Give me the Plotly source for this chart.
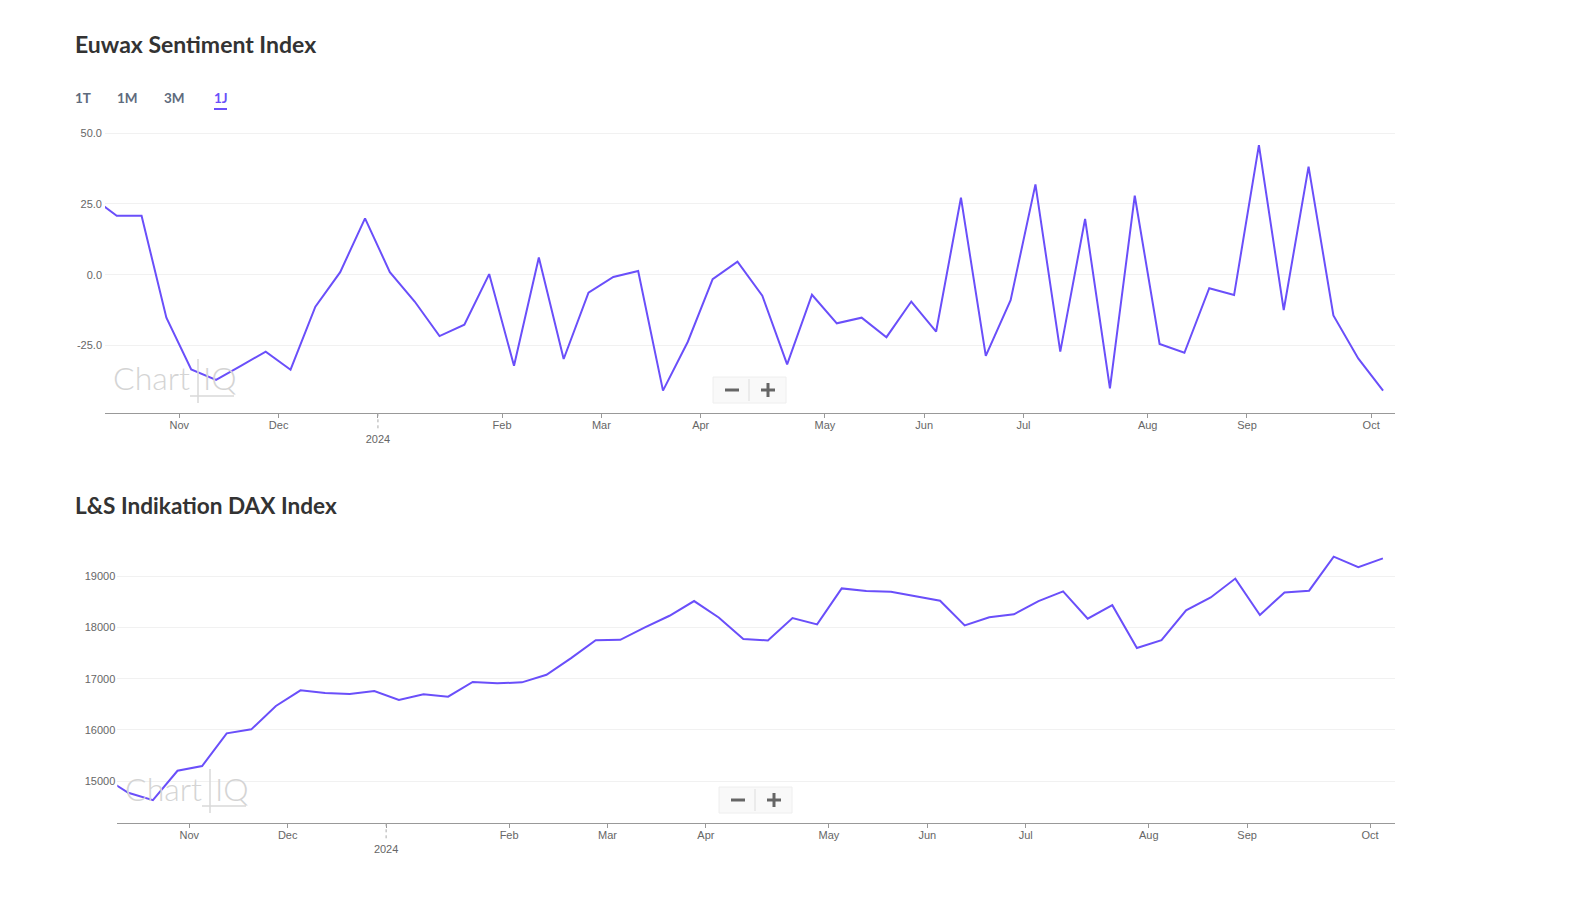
import plotly.graph_objects as go

W, H = 1590, 901

sentiment = [27.4, 20.8, 20.8, -15.2, -33.5, -37.2, -32.2, -27.2, -33.6, -11.3, 0.9, 19.9, 0.9,
             -9.5, -21.7, -17.7, 0.2, -32.2, 6.1, -29.8, -6.4, -0.8, 1.3, -41.0, -23.7, -1.6,
             4.6, -7.4, -31.7, -7.1, -17.2, -15.2, -22.1, -9.5, -20.1, 27.2, -28.7, -9.0, 31.9,
             -27.2, 19.7, -40.2, 27.9, -24.5, -27.6, -4.8, -7.2, 45.8, -12.5, 38.2, -14.4, -29.6, -41.0]
dax = [15078, 14772, 14629, 15202, 15293, 15932, 16010, 16466, 16772, 16720, 16700, 16759, 16583,
       16694, 16648, 16935, 16909, 16928, 17075, 17400, 17752, 17759, 18000, 18228, 18515, 18195,
       17772, 17746, 18182, 18059, 18762, 18710, 18697, 18606, 18521, 18039, 18197, 18257, 18513,
       18704, 18171, 18434, 17599, 17750, 18335, 18585, 18954, 18243, 18684, 18717, 19382, 19178, 19349]
weeks = list(range(len(dax)))

month_pos_top = [3.52, 7.52, 11.52, 16.52, 20.52, 24.52, 29.52, 33.52, 37.52, 42.52, 46.52, 51.52]
month_pos_bottom = [3.48, 7.48, 11.48, 16.48, 20.48, 24.48, 29.48, 33.48, 37.48, 42.48, 46.48, 51.48]
month_lab = ["Nov", "Dec", "&nbsp;<br>2024", "Feb", "Mar", "Apr", "May", "Jun", "Jul", "Aug", "Sep", "Oct"]
sent_ticks = [-25, 0, 25, 50]
sent_labels = ["-25.0", "0.0", "25.0", "50.0"]
dax_ticks = [15000, 16000, 17000, 18000, 19000]
dax_labels = ["15000", "16000", "17000", "18000", "19000"]
titles = ["Euwax Sentiment Index", "L&S Indikation DAX Index"]
tabs = ["1T", "1M", "3M", "1J"]

PURPLE = "#6a4ffa"
TXT = "#666666"

fig = go.Figure()
fig.add_trace(go.Scatter(x=weeks, y=sentiment, mode="lines", line=dict(color=PURPLE, width=2),
                         xaxis="x", yaxis="y", showlegend=False))
fig.add_trace(go.Scatter(x=weeks, y=dax, mode="lines", line=dict(color=PURPLE, width=2),
                         xaxis="x2", yaxis="y2", showlegend=False))


def ax_x(left, right, x0, dx, anchor, pos):
    return dict(domain=[left / W, right / W], range=[(left - x0) / dx, (right - x0) / dx],
                tickmode="array", tickvals=pos, ticktext=month_lab,
                showgrid=False, zeroline=False, showline=True, linecolor="#999999", linewidth=1,
                ticks="outside", ticklen=4, tickcolor="#999999", tickwidth=1, ticklabelstandoff=-3,
                tickfont=dict(family="Liberation Sans", size=11, color=TXT), anchor=anchor,
                fixedrange=True)


def ax_y(top, bottom, vtop, vbot, ticks, labels, anchor, standoff):
    return dict(domain=[1 - bottom / H, 1 - top / H], range=[vbot, vtop],
                tickmode="array", tickvals=ticks, ticktext=labels, ticklabelstandoff=standoff,
                showgrid=True, gridcolor="#f1f1f1", gridwidth=1, zeroline=False, showline=False,
                ticks="", tickfont=dict(family="Liberation Sans", size=11, color=TXT), anchor=anchor,
                fixedrange=True)


fig.update_layout(
    width=W, height=H, autosize=False, margin=dict(l=0, r=0, t=0, b=0),
    paper_bgcolor="white", plot_bgcolor="white", showlegend=False,
    xaxis=ax_x(105, 1395, 91.9, 24.83, "y", month_pos_top),
    yaxis=ax_y(125, 413.3, 52.9, -49.0, sent_ticks, sent_labels, "x", 2),
    xaxis2=ax_x(117.3, 1395, 103.7, 24.6, "y2", month_pos_bottom),
    yaxis2=ax_y(540, 823.3, 19707, 14176, dax_ticks, dax_labels, "x2", 1),
)


def text(x, y, s, size, color, family="Lato", xanchor="left"):
    fig.add_annotation(xref="paper", yref="paper", x=x / W, y=1 - y / H, text=s, showarrow=False,
                       xanchor=xanchor, yanchor="middle", borderpad=0, borderwidth=0,
                       font=dict(family=family, size=size, color=color))


def pline(x0, y0, x1, y1, color, width, dash="solid"):
    fig.add_shape(type="line", xref="paper", yref="paper", x0=x0 / W, x1=x1 / W,
                  y0=1 - y0 / H, y1=1 - y1 / H, line=dict(color=color, width=width, dash=dash),
                  layer="above")


text(75, 44, "<b>" + titles[0] + "</b>", 23, "#333333")
text(75, 505, "<b>" + titles[1] + "</b>", 22.6, "#333333")

for x, s in zip([75, 117, 164, 214], tabs):
    text(x, 98, "<b>" + s + "</b>", 13.5, PURPLE if s == "1J" else "#5e6b7d")
pline(214, 109, 227, 109, PURPLE, 2)


def watermark(x, y):
    text(x, y - 5, "Chart", 32, "#d4d4d4", "Lato Light")
    text(x + 90, y - 5, "IQ", 32, "#d4d4d4", "Lato Light")
    pline(x + 85, y - 24, x + 85, y + 20, "#d9d9d9", 1.5)
    pline(x + 77, y + 13, x + 121, y + 13, "#d9d9d9", 1.5)


watermark(113, 383)
watermark(125, 793)


def zoom_ctl(cx, cy):
    x0, x1, y0, y1 = cx - 36, cx + 37, cy - 13, cy + 13
    fig.add_shape(type="rect", xref="paper", yref="paper", x0=x0 / W, x1=x1 / W, y0=1 - y1 / H, y1=1 - y0 / H,
                  fillcolor="#f9f9f9", line=dict(color="#eeeeee", width=1), layer="above")
    pline(cx, y0 + 2, cx, y1 - 2, "#dddddd", 1)
    pline(cx - 24, cy, cx - 10, cy, "#666666", 3)
    pline(cx + 12, cy, cx + 26, cy, "#666666", 3)
    pline(cx + 19, cy - 7, cx + 19, cy + 7, "#666666", 3)


zoom_ctl(749, 390)
zoom_ctl(755, 800)

# dotted year ticks, from the same tick position as the "2024" label
fig.add_shape(type="line", xref="x", yref="paper", x0=month_pos_top[2], x1=month_pos_top[2],
              y0=1 - 413.3 / H, y1=1 - 430 / H, line=dict(color="#aaaaaa", width=1, dash="dot"))
fig.add_shape(type="line", xref="x2", yref="paper", x0=month_pos_bottom[2], x1=month_pos_bottom[2],
              y0=1 - 823.3 / H, y1=1 - 840 / H, line=dict(color="#aaaaaa", width=1, dash="dot"))

fig.write_html("out.html", post_script="document.body.style.margin='0';",
               config={"displayModeBar": False})
